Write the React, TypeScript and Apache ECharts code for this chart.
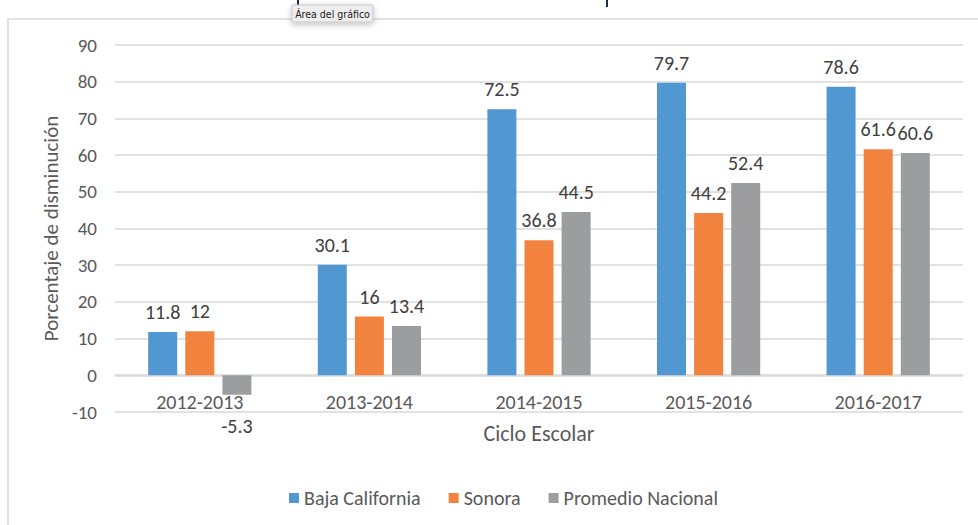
import React, { useEffect, useRef } from "react";
import * as echarts from "echarts";

const categories = ["2012-2013", "2013-2014", "2014-2015", "2015-2016", "2016-2017"];
const bajaCalifornia = [11.8, 30.1, 72.5, 79.7, 78.6];
const sonora = [12, 16, 36.8, 44.2, 61.6];
const promedioNacional = [-5.3, 13.4, 44.5, 52.4, 60.6];
const seriesNames = ["Baja California", "Sonora", "Promedio Nacional"];
const yTicks = { min: -10, max: 90, interval: 10 };

const FONT = "Carlito, Calibri, Lato, sans-serif";
const TEXT = "#595959";
const COLORS = ["#5198D3", "#F1833F", "#9B9D9E"];

function toData(values: number[]) {
  return values.map((v) => ({
    value: v,
    label: v < 0 ? { position: "bottom", distance: 21 } : { position: "top" },
  }));
}

export default function App() {
  const ref = useRef<HTMLDivElement>(null);
  useEffect(() => {
    if (!ref.current) return;
    const chart = echarts.init(ref.current, null, { renderer: "svg" });
    const mkSeries = (name: string, values: number[], color: string) => ({
      name,
      type: "bar",
      data: toData(values),
      barWidth: 29,
      barGap: "28%",
      itemStyle: { color },
      label: {
        show: true,
        distance: 10,
        fontFamily: FONT,
        fontSize: 20,
        color: "#404040",
      },
    });
    chart.setOption({
      animation: false,
      backgroundColor: "#ffffff",
      textStyle: { fontFamily: FONT },
      grid: { left: 115, right: 15, top: 45, bottom: 113, containLabel: false },
      legend: {
        data: seriesNames,
        left: 284,
        top: 483,
        itemWidth: 10,
        itemHeight: 10,
        itemGap: 28,
        icon: "rect",
        textStyle: { fontFamily: FONT, fontSize: 20, color: TEXT },
      },
      xAxis: {
        type: "category",
        data: categories,
        offset: -37,
        name: "Ciclo Escolar",
        nameLocation: "middle",
        nameGap: 47,
        nameTextStyle: { fontFamily: FONT, fontSize: 22, color: TEXT },
        axisLine: { show: true, onZero: false, lineStyle: { color: "#d9d9d9", width: 1.5 } },
        axisTick: { show: false },
        axisLabel: { fontFamily: FONT, fontSize: 20, color: TEXT, margin: 17 },
      },
      yAxis: {
        type: "value",
        min: yTicks.min,
        max: yTicks.max,
        interval: yTicks.interval,
        name: "Porcentaje de disminución",
        nameLocation: "middle",
        nameGap: 54,
        nameTextStyle: { fontFamily: FONT, fontSize: 21, color: TEXT },
        axisLine: { show: false },
        axisTick: { show: false },
        axisLabel: { fontFamily: FONT, fontSize: 19, color: TEXT, margin: 18 },
        splitLine: { lineStyle: { color: "#d9d9d9", width: 1.5 } },
      },
      series: [
        mkSeries(seriesNames[0], bajaCalifornia, COLORS[0]),
        mkSeries(seriesNames[1], sonora, COLORS[1]),
        mkSeries(seriesNames[2], promedioNacional, COLORS[2]),
      ],
      graphic: [
        {
          type: "polyline",
          silent: true,
          shape: { points: [[8, 525], [8, 19], [978, 19]] },
          style: { stroke: "#d9d9d9", lineWidth: 1.5, fill: "none" },
        },
        { type: "line", silent: true, shape: { x1: 298, y1: 0, x2: 298, y2: 7 }, style: { stroke: "#1f2a44", lineWidth: 2 } },
        { type: "line", silent: true, shape: { x1: 607, y1: 0, x2: 607, y2: 7 }, style: { stroke: "#1f2a44", lineWidth: 2 } },
        {
          type: "rect",
          silent: true,
          shape: { x: 292, y: 5, width: 81, height: 17, r: 1 },
          style: {
            fill: "#eeeeee",
            stroke: "#c6c6c6",
            lineWidth: 1,
            shadowBlur: 6,
            shadowColor: "rgba(0,0,0,0.25)",
            shadowOffsetY: 2,
          },
          z: 100,
        },
        {
          type: "text",
          silent: true,
          x: 332.5,
          y: 13.5,
          style: {
            text: "Área del gráfico",
            fontFamily: "Liberation Sans Narrow, DejaVu Sans Condensed, Liberation Sans, sans-serif",
            fontSize: 10.5,
            fill: "#222222",
            align: "center",
            verticalAlign: "middle",
          },
          z: 101,
        },
      ],
    });
    return () => chart.dispose();
  }, []);
  return (
    <div
      ref={ref}
      style={{ position: "fixed", left: 0, top: 0, width: 978, height: 525 }}
    />
  );
}
